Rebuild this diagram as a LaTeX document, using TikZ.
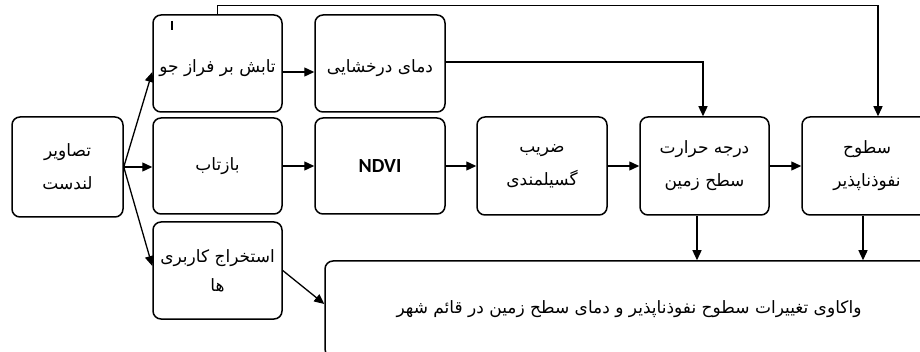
\documentclass[tikz,border=0pt]{standalone}
\usepackage{fontspec}
\TeXXeTstate=1
\setmainfont{DejaVu Sans}
\newfontfamily\fa[Script=Arabic]{DejaVu Sans}
\newfontfamily\calfont{Carlito}
\usetikzlibrary{arrows.meta,calc}
\begin{document}
\begin{tikzpicture}[x=1pt,y=-1pt,
  box/.style={draw,line width=1.5pt,rounded corners=8pt,minimum width=129pt,minimum height=97pt,inner sep=0pt,align=center,font=\fa\fontsize{17}{33}\selectfont},
  low/.style={text height=23pt,text depth=4pt},
  arr/.style={line width=1.3pt,-{Triangle[length=10pt,width=9pt]}}]
\clip (0,0) rectangle (920,352);
\node[box,minimum width=111pt,minimum height=100pt] (A) at (67.5,167) {\beginR تصاویر\endR\\\beginR لندست\endR};
\node[box,low] (tabesh) at (217.5,63.5) {\beginR تابش بر فراز جو\endR};
\node[box,low,minimum width=130pt] (derakh) at (380,63.5) {\beginR دمای درخشایی\endR};
\node[box,minimum height=96pt] (bazt) at (217.5,166) {\beginR بازتاب\endR};
\node[box,minimum width=130pt,minimum height=96pt,font=\calfont\bfseries\fontsize{20}{22}\selectfont] (ndvi) at (380,166) {NDVI};
\node[box,minimum width=130pt,minimum height=98pt] (zarib) at (542,166) {\beginR ضریب\endR\\\beginR گسیلمندی\endR};
\node[box,minimum height=98pt] (daraje) at (704.5,166) {\beginR درجه حرارت\endR\\\beginR سطح زمین\endR};
\node[box,minimum width=130pt,minimum height=98pt] (sotuh) at (867,166) {\beginR سطوح\endR\\\beginR نفوذناپذیر\endR};
\node[box,font=\fa\fontsize{17}{29}\selectfont] (estekhraj) at (217.5,270.5) {\beginR استخراج کاربری\endR\\\beginR ها\endR};
\node[box,minimum width=608pt,minimum height=96pt] (final) at (629,309) {\beginR واکاوی تغییرات سطوح نفوذناپذیر و دمای سطح زمین در قائم شهر\endR};
% stray mark
\draw[line width=2pt] (172,21) -- (172,30);
% connectors
\draw[arr] (A.east) -- ([yshift=-8.5pt]tabesh.west);
\draw[arr] (A.east) -- (A.east -| bazt.west);
\draw[arr] (A.east) -- ([yshift=4.5pt]estekhraj.west);
\draw[arr] ([yshift=-8.5pt]tabesh.east) -- ([yshift=-8.5pt]derakh.west);
\draw[arr] (bazt) -- (ndvi);
\draw[arr] (ndvi) -- (zarib);
\draw[arr] (zarib) -- (daraje);
\draw[arr] (daraje) -- (sotuh);
\draw[arr] ([yshift=1.5pt]derakh.east) -| ([xshift=-1.5pt]daraje.north);
\coordinate (t1) at ($(tabesh.north)+(0,-8.5)$);
\draw[arr] (tabesh.north) -- (t1) -| ([xshift=11pt]sotuh.north);
\draw[arr] ([xshift=-7.5pt]daraje.south) -- ([xshift=-7.5pt]daraje.south |- final.north);
\draw[arr] ([xshift=-4pt]sotuh.south) -- ([xshift=-4pt]sotuh.south |- final.north);
\draw[arr] (estekhraj.east) -- ([yshift=5pt]final.west);
\end{tikzpicture}
\end{document}
